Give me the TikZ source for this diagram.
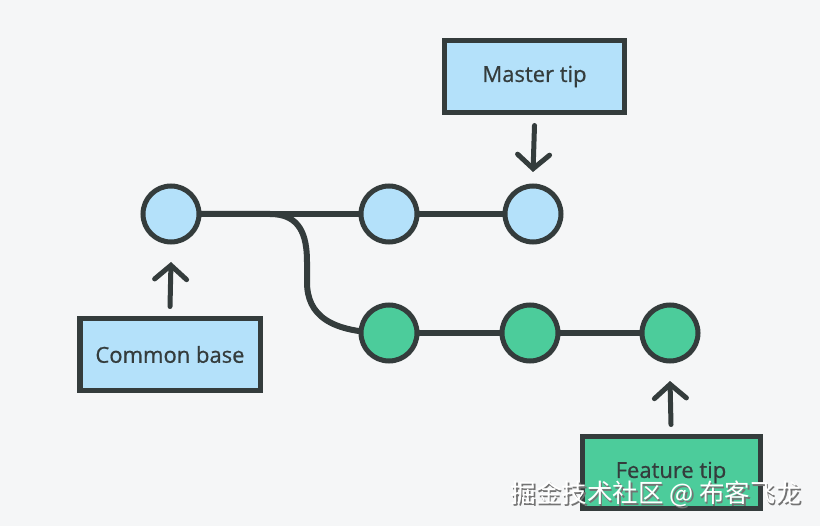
\documentclass[tikz,border=0pt]{standalone}
\usepackage{fontspec}
\setmainfont[FakeBold=0.8,AutoFakeBold=0.8]{Open Sans}
\newfontfamily\labelfont[FakeBold=0.7]{Open Sans}
\newfontfamily\cjk{Noto Sans CJK SC}
\usetikzlibrary{arrows.meta}
\definecolor{bg}{RGB}{245,246,247}
\definecolor{ink}{RGB}{52,60,60}
\definecolor{lblue}{RGB}{180,225,250}
\definecolor{lgreen}{RGB}{76,204,155}
\tikzset{
  commit/.style={circle,draw=ink,line width=5bp,minimum size=56bp,inner sep=0pt,outer sep=0pt},
  bluec/.style={commit,fill=lblue},
  greenc/.style={commit,fill=lgreen},
  label box/.style={rectangle,draw=ink,line width=5bp,minimum height=72bp,inner sep=0pt,outer sep=0pt,font=\labelfont\fontsize{22bp}{26bp}\selectfont,text=ink},
  link/.style={draw=ink,line width=6bp},
  pointer/.style={draw=ink,line width=5bp,-{Straight Barb[length=14bp,width=32bp,line cap=round]},line cap=round},
}
\begin{document}
\begin{tikzpicture}[x=1bp,y=-1bp]
\fill[bg] (0,0) rectangle (820,526);
\useasboundingbox (0,0) rectangle (820,526);
% commit positions
\coordinate (pc1) at (171,214);
\coordinate (pm1) at (389,214);
\coordinate (pm2) at (533,214);
\coordinate (pf1) at (389,333);
\coordinate (pf2) at (530,333);
\coordinate (pf3) at (670,333);
% links (drawn first)
\path[link] (pc1) -- (pm1);
\path[link] (pm1) -- (pm2);
\path[link] (pf1) -- (pf2);
\path[link] (pf2) -- (pf3);
\path[link] (pc1) -- (270,214) .. controls (300,214) and (307,235) .. (307,262) -- (307,282) .. controls (307,315) and (330,333) .. (pf1);
% commits
\node[bluec] (c1) at (pc1) {};
\node[bluec] (m1) at (pm1) {};
\node[bluec] (m2) at (pm2) {};
\node[greenc] (f1) at (pf1) {};
\node[greenc] (f2) at (pf2) {};
\node[greenc] (f3) at (pf3) {};
% labels
\node[label box,fill=lblue,minimum width=180bp] (mt) at (534.5,76.5) {Master tip};
\node[label box,fill=lblue,minimum width=180bp] (cb) at (170,354.5) {Common base};
\node[label box,fill=lgreen,minimum width=178bp] (ft) at (671,472.5) {Feature tip};
% pointers
\path[pointer] ([yshift=-13bp]mt.south) -- ([yshift=14bp]m2.north);
\path[pointer] ([yshift=12bp]cb.north) -- ([yshift=-20bp]c1.south);
\path[pointer] ([yshift=12bp]ft.north) -- ([yshift=-20bp]f3.south);
% watermark
\node[text=black!55,anchor=east,font=\cjk\fontsize{25.5bp}{28bp}\selectfont] at (806.5,495.5) {掘金技术社区 @ 布客飞龙};
\node[text=white,anchor=east,font=\cjk\fontsize{25.5bp}{28bp}\selectfont] (wm) at (805,494) {掘金技术社区 @ 布客飞龙};
\end{tikzpicture}
\end{document}
